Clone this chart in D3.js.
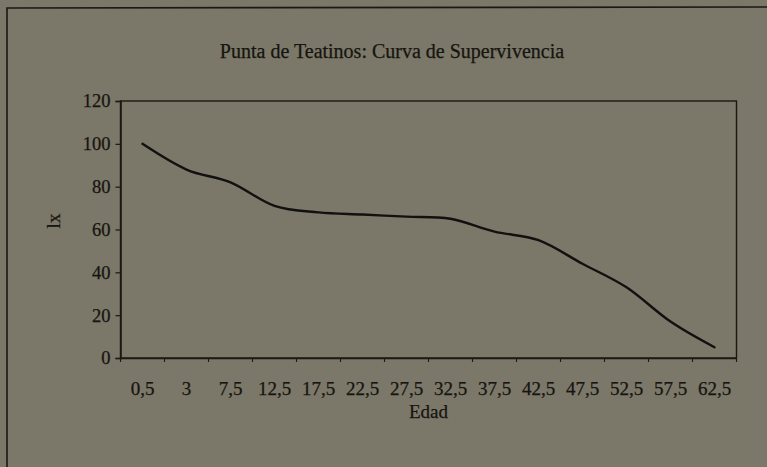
<!DOCTYPE html>
<html>
<head>
<meta charset="utf-8">
<script src="https://cdn.jsdelivr.net/npm/d3@7/dist/d3.min.js"></script>
<style>
  html, body { margin: 0; padding: 0; background: #7b7769; }
  svg { display: block; }
  text { font-family: "Liberation Serif", "Times New Roman", serif; fill: #16150f; stroke: #16150f; stroke-width: 0.25px; }
</style>
</head>
<body>
<svg id="chart" width="767" height="467"></svg>
<script>
// Survival curve (lx) by age class
const title = "Punta de Teatinos: Curva de Supervivencia";
const ages = ["0,5", "3", "7,5", "12,5", "17,5", "22,5", "27,5", "32,5", "37,5", "42,5", "47,5", "52,5", "57,5", "62,5"];
const lx = [100, 88, 82, 71, 68, 67, 66, 65, 59, 55, 44, 33, 17, 5];
const yTicks = [0, 20, 40, 60, 80, 100, 120];
const xTitle = "Edad";
const yTitle = "lx";

const svg = d3.select("#chart");
const ink = "#1a1912";
const plot = { left: 120.5, right: 736.5, top: 101, bottom: 358 };

// outer chart frame (top and left edges)
svg.append("path")
  .attr("d", "M7,470 L7,8 L767,7")
  .attr("fill", "none").attr("stroke", ink).attr("stroke-width", 1.6);

const x = d3.scaleBand().domain(ages).range([plot.left, plot.right]).padding(0);
const y = d3.scaleLinear().domain([0, 120]).range([plot.bottom, plot.top]);

// plot area border
svg.append("rect")
  .attr("x", plot.left).attr("y", plot.top)
  .attr("width", plot.right - plot.left).attr("height", plot.bottom - plot.top)
  .attr("fill", "none").attr("stroke", ink).attr("stroke-width", 1.4);

// y axis
const yAxis = svg.append("g")
  .attr("transform", `translate(${plot.left},0)`)
  .call(d3.axisLeft(y).tickValues(yTicks).tickSize(5).tickPadding(5).tickFormat(d3.format("d")));
yAxis.select(".domain").attr("stroke", ink).attr("stroke-width", 1.5);
yAxis.selectAll(".tick line").attr("stroke", ink).attr("stroke-width", 1.2);
yAxis.selectAll(".tick text")
  .attr("font-size", 18.5).attr("font-family", "Liberation Serif, serif").attr("fill", "#16150f");

// x axis: labels centred on categories, ticks on category boundaries
const xAxis = svg.append("g")
  .attr("transform", `translate(0,${plot.bottom})`)
  .call(d3.axisBottom(x).tickSize(0).tickPadding(24));
xAxis.select(".domain").attr("stroke", ink).attr("stroke-width", 1.6);
xAxis.selectAll(".tick text")
  .attr("font-size", 19).attr("font-family", "Liberation Serif, serif").attr("fill", "#16150f");

const bounds = ages.map(a => x(a)).concat([x(ages[ages.length - 1]) + x.bandwidth()]);
svg.append("g").selectAll("line").data(bounds).join("line")
  .attr("x1", d => d).attr("x2", d => d)
  .attr("y1", plot.bottom).attr("y2", plot.bottom + 4)
  .attr("stroke", ink).attr("stroke-width", 1.1);

// smoothed survival line
const line = d3.line()
  .x((d, i) => x(ages[i]) + x.bandwidth() / 2)
  .y(d => y(d))
  .curve(d3.curveCardinal.tension(0));
svg.append("path")
  .datum(lx)
  .attr("d", line)
  .attr("fill", "none").attr("stroke", "#121110").attr("stroke-width", 2.4)
  .attr("stroke-linejoin", "round").attr("stroke-linecap", "round");

// titles
svg.append("text")
  .attr("x", 392).attr("y", 58)
  .attr("text-anchor", "middle").attr("font-size", 20)
  .text(title);

svg.append("text")
  .attr("x", (plot.left + plot.right) / 2).attr("y", 418)
  .attr("text-anchor", "middle").attr("font-size", 19)
  .text(xTitle);

svg.append("text")
  .attr("transform", "translate(60,221) rotate(-90)")
  .attr("text-anchor", "middle").attr("font-size", 19)
  .text(yTitle);
</script>
</body>
</html>
